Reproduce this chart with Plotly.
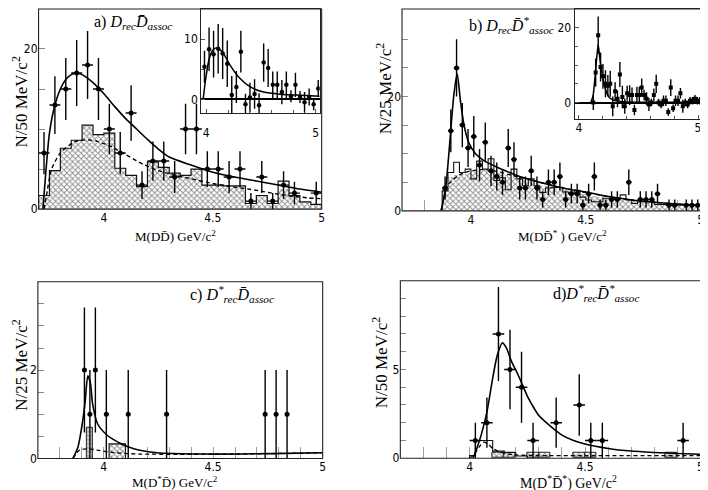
import math
import plotly.graph_objects as go

W, H = 708, 490

# ---------------- Panel a : M(D Dbar), 50 MeV bins ----------------
a_x = [3.725, 3.775, 3.825, 3.875, 3.925, 3.975, 4.025, 4.075, 4.125, 4.175,
       4.225, 4.275, 4.325, 4.375, 4.425, 4.475, 4.525, 4.575, 4.625, 4.675,
       4.725, 4.775, 4.825, 4.875, 4.925, 4.975]
a_counts = [7, 13, 15, 17, 18, 15, 10, 7, 12, 3, 6, 6, 4, 10, 10, 5, 5, 4, 5, 1,
            4, 1, 3, 2, 0, 2]
a_hatch = [1.7, 4.8, 7.6, 8.6, 10.5, 9.3, 9.5, 5.1, 4.2, 2.8, 5.9, 5.2, 4.5, 4.2,
           5.0, 3.0, 3.0, 2.9, 2.9, 0.7, 1.7, 0.7, 2.5, 1.7, 0.9, 0.6]
a_outline = [1.7, 4.8, 7.6, 8.6, 10.5, 9.3, 9.5, 5.1, 4.2, 2.8, 5.9, 5.2, 4.5, 4.2,
             5.0, 3.0, 3.0, 2.9, 2.9, 0.7, 1.7, 0.7, 3.5, 1.7, 0.9, 0.6]
a_fit_x = [3.72, 3.73, 3.75, 3.775, 3.8, 3.825, 3.85, 3.875, 3.9, 3.95, 4.0, 4.05,
           4.1, 4.15, 4.2, 4.25, 4.3, 4.4, 4.5, 4.6, 4.7, 4.8, 4.9, 5.0]
a_fit_y = [0, 3.5, 9.5, 13, 15, 16.2, 16.8, 17, 16.8, 15.8, 14.4, 12.8, 11.3, 10,
           8.7, 7.5, 6.5, 5.5, 4.6, 4.0, 3.5, 3.0, 2.5, 2.1]
a_bkg_x = [3.725, 3.735, 3.76, 3.8, 3.865, 3.92, 3.97, 4.035, 4.1, 4.18, 4.25, 4.33,
           4.4, 4.48, 4.56, 4.64, 4.71, 4.79, 4.87, 4.94, 5.0]
a_bkg_y = [0, 1.5, 5.0, 7.0, 8.4, 8.65, 8.45, 7.8, 6.8, 5.6, 4.8, 4.2, 3.8, 3.3, 2.9,
           2.6, 2.3, 1.9, 1.6, 1.4, 1.3]
# inset a (background subtracted)
inset_a_x = [3.985, 4.027, 4.068, 4.110, 4.151, 4.193, 4.234, 4.276, 4.317, 4.359,
             4.400, 4.442, 4.483, 4.525, 4.566, 4.608, 4.649, 4.691, 4.732, 4.774,
             4.815, 4.857, 4.898, 4.940, 4.981, 5.023]
inset_a_y = [5.4, 8.3, 7.5, 8.4, 7.6, 5.9, 0.7, 2.05, 7.9, -0.8, 0.3, 0.9, -1.0, 6.1,
             5.2, 2.4, 2.4, 1.2, 2.4, 0.5, 2.4, 0.4, -0.5, 0.4, -0.8, 1.8]
inset_a_fit_x = [3.973, 3.994, 4.024, 4.055, 4.085, 4.115, 4.161, 4.221, 4.312, 4.403,
                 4.524, 4.675, 4.827, 5.036]
inset_a_fit_y = [0, 3.1, 6.4, 8.0, 8.5, 8.4, 7.5, 5.6, 3.4, 2.05, 1.2, 0.85, 0.7, 0.5]

# ---------------- Panel b : M(D Dbar*), 25 MeV bins ----------------
b_x = [3.8875, 3.9125, 3.9375, 3.9625, 3.9875, 4.0125, 4.0375, 4.0625, 4.0875, 4.1125,
       4.1375, 4.1625, 4.1875, 4.2125, 4.2375, 4.2625, 4.2875, 4.3125, 4.3375, 4.3625,
       4.3875, 4.4125, 4.4375, 4.4625, 4.4875, 4.5125, 4.5375, 4.5625, 4.5875, 4.6125,
       4.6375, 4.6625, 4.6875, 4.7125, 4.7375, 4.7625, 4.7875, 4.8125, 4.8375, 4.8625,
       4.8875, 4.9125, 4.9375, 4.9625, 4.9875]
b_counts = [4, 14, 25, 15, 11, 13, 8, 12, 7, 6, 5, 11, 9, 4, 4, 7, 4, 2, 5, 5, 6, 2,
            3, 3, 1, 3, 6, 1, 1, 2, 2, 0, 5, 0, 2, 2, 2, 3, 0, 1, 1, 0, 1, 1, 1]
b_hatch = [4.0, 6.0, 6.3, 6.5, 6.6, 6.9, 7.0, 7.1, 7.3, 6.7, 6.4, 6.2, 6.0, 5.5, 5.4,
           5.0, 4.8, 4.4, 4.4, 4.0, 3.9, 3.6, 3.4, 3.3, 2.9, 2.8, 2.6, 2.4, 2.3, 2.1,
           2.0, 1.9, 1.9, 1.7, 1.6, 1.5, 1.4, 1.4, 1.3, 1.2, 1.2, 1.1, 1.0, 1.0, 1.0]
b_outline = [3.5, 6.7, 8.5, 6.7, 7.3, 5.6, 8.7, 7.3, 9.1, 5.3, 5.8, 3.7, 7.3, 5.6, 4.4,
             5.6, 4.4, 3.2, 4.0, 4.1, 4.1, 3.3, 3.0, 3.6, 2.4, 1.9, 1.6, 1.6, 2.2, 2.2,
             2.0, 2.8, 1.9, 1.3, 1.6, 1.6, 1.6, 1.1, 1.1, 1.0, 1.0, 1.0, 1.0, 1.0, 1.0]
b_fit_x = [3.87, 3.89, 3.91, 3.925, 3.94, 3.955, 3.97, 3.99, 4.02, 4.06, 4.1, 4.15,
           4.2, 4.3, 4.4, 4.5, 4.6, 4.7, 4.8, 4.9, 5.0]
b_fit_y = [0, 4, 13, 20, 24, 19, 15, 12, 10, 8.7, 7.9, 7, 6.2, 5, 4, 3.3, 2.5, 1.9,
           1.5, 1.2, 1.0]
b_bkg_x = [3.87, 3.9, 3.95, 4.0, 4.05, 4.1, 4.2, 4.3, 4.4, 4.5, 4.6, 4.7, 4.8, 4.9, 5.0]
b_bkg_y = [0, 4.5, 6.3, 7.0, 7.2, 7.0, 6.0, 5.0, 4.0, 3.2, 2.5, 1.9, 1.5, 1.2, 1.0]
# inset b (background subtracted)
inset_b_x = [4.121, 4.141, 4.162, 4.182, 4.202, 4.223, 4.243, 4.263, 4.284, 4.304,
             4.324, 4.344, 4.365, 4.385, 4.405, 4.426, 4.446, 4.466, 4.487, 4.507,
             4.527, 4.547, 4.568, 4.588, 4.608, 4.629, 4.649, 4.669, 4.690, 4.710,
             4.730, 4.750, 4.771, 4.791, 4.811, 4.832, 4.852, 4.872, 4.893, 4.913,
             4.933, 4.953, 4.974, 4.994, 5.014]
inset_b_y = [0, 8, 18, 9.5, 7, 5, 4.5, 5, -1, 3, 1, 7.5, 1.5, -1, 2.5, 2, 2, -2, 2, 2,
             4, 2, 1, -0.5, 0, 2, 5, 0, -0.5, 0.5, 0.5, -2.5, 4, -1.5, 0.5, 0.5, 2.5,
             -1, 0, -0.5, 0.5, 0.5, 1, 0.5, 0.5]
inset_b_fit_x = [4.10, 4.12, 4.131, 4.148, 4.162, 4.175, 4.19, 4.209, 4.237, 4.26,
                 4.292, 4.35, 4.5, 5.031]
inset_b_fit_y = [0, 2, 5.3, 11.3, 15.5, 12, 8.5, 5.3, 2.3, 1.2, 0.6, 0.3, 0.1, 0.05]

# ---------------- Panel c : M(D* Dbar), 25 MeV bins ----------------
c_x = [3.9125, 3.9375, 3.9625, 4.0125, 4.1125, 4.2875, 4.7375, 4.7875, 4.8375]
c_counts = [2, 1, 2, 1, 1, 1, 1, 1, 1]
c_hist_x = [3.9375, 4.0375, 4.0625, 4.0875]
c_hist_y = [0.7, 0.33, 0.33, 0.33]
c_fit_x = [3.86, 3.883, 3.905, 3.916, 3.928, 3.94, 3.95, 3.973, 4.018, 4.078, 4.138,
           4.243, 4.468, 4.77, 5.0]
c_fit_y = [0, 0.26, 0.86, 1.3, 1.87, 1.7, 1.23, 0.78, 0.52, 0.34, 0.22, 0.13, 0.10,
           0.11, 0.13]
c_bkg_x = [3.86, 3.89, 3.93, 3.97, 4.05, 4.17, 4.6, 5.0]
c_bkg_y = [0, 0.19, 0.22, 0.19, 0.13, 0.10, 0.10, 0.13]

# ---------------- Panel d : M(D* Dbar*), 50 MeV bins ----------------
d_x = [4.025, 4.075, 4.125, 4.175, 4.225, 4.275, 4.375, 4.475, 4.525, 4.575, 4.925]
d_counts = [1, 2, 7, 5, 4, 1, 2, 3, 1, 1, 1]
d_hatch_x = [4.125, 4.175, 4.275, 4.325, 4.475, 4.525, 4.875]
d_hatch_y = [0.28, 0.28, 0.28, 0.28, 0.28, 0.28, 0.28]
d_out_x = [4.0125, 4.0375, 4.0625, 4.0875, 4.1125, 4.1375, 4.1625, 4.1875, 4.2125, 4.2375]
d_out_y = [0.15, 1.0, 1.0, 1.0, 0.4, 0.4, 0.32, 0.32, 0.12, 0.12]
d_fit_x = [4.015, 4.03, 4.05, 4.075, 4.1, 4.12, 4.142, 4.16, 4.18, 4.21, 4.23, 4.25,
           4.28, 4.3, 4.35, 4.4, 4.45, 4.5, 4.6, 4.7, 4.8, 4.9, 5.0]
d_fit_y = [0, 0.5, 1.3, 2.6, 4.5, 5.8, 6.5, 6.2, 5.5, 4.7, 4.1, 3.5, 2.8, 2.4, 1.8,
           1.3, 1.0, 0.8, 0.55, 0.4, 0.32, 0.26, 0.22]
d_bkg_x = [4.0, 4.02, 4.04, 4.06, 4.08, 4.1, 4.13, 4.16, 4.2, 4.3, 4.5, 5.0]
d_bkg_y = [0, 0.2, 0.6, 0.9, 0.8, 0.55, 0.35, 0.25, 0.18, 0.15, 0.14, 0.15]

# ---------------- tick labels ----------------
x_tick_vals = [4, 4.5, 5]
x_tick_text = ["4", "4.5", "5"]
x_minor_vals = [3.8, 3.9, 4.1, 4.2, 4.3, 4.4, 4.6, 4.7, 4.8, 4.9]

# ---------------- helpers ----------------
SERIF = "Liberation Serif, Times New Roman, serif"
NARROW = "Liberation Sans Narrow, DejaVu Sans Condensed, Liberation Sans, sans-serif"


def perr(counts):
    return [math.sqrt(c) if c > 0 else 1.0 for c in counts]


def shown(counts):
    return [c if c > 0 else None for c in counts]


def points(x, y, err, xerr, xa, ya, symbol="circle", size=5):
    return go.Scatter(x=x, y=y, mode="markers", xaxis=xa, yaxis=ya,
                      marker=dict(color="black", size=size, symbol=symbol),
                      error_y=dict(type="data", array=err, thickness=1.4, width=0,
                                   color="black"),
                      error_x=dict(type="data", array=[xerr] * len(x), thickness=1.4,
                                   width=0, color="black"),
                      hoverinfo="skip")


def hatched(x, y, w, xa, ya, shape="x", line=0):
    return go.Bar(x=x, y=y, width=[w] * len(x), xaxis=xa, yaxis=ya,
                  marker=dict(color="white",
                              pattern=dict(shape=shape, fgcolor="#1a1a1a", bgcolor="white",
                                           size=4, solidity=0.42),
                              line=dict(width=line, color="#222")),
                  hoverinfo="skip")


def steps(centers, vals, w, xa, ya, width=1.2):
    xs = [centers[0] - w / 2]
    ys = [0]
    for c, v in zip(centers, vals):
        xs.append(c - w / 2)
        ys.append(v)
    xs += [centers[-1] + w / 2, centers[-1] + w / 2]
    ys += [vals[-1], 0]
    return go.Scatter(x=xs, y=ys, mode="lines", xaxis=xa, yaxis=ya,
                      line=dict(color="#111", width=width, shape="hv"), hoverinfo="skip")


def curve(x, y, xa, ya, dash=None, width=1.6):
    return go.Scatter(x=x, y=y, mode="lines", xaxis=xa, yaxis=ya,
                      line=dict(color="black", width=width, shape="spline",
                                smoothing=0.7, dash=dash), hoverinfo="skip")


fig = go.Figure()

# panel a
fig.add_trace(hatched(a_x, a_hatch, 0.05, "x", "y"))
fig.add_trace(steps(a_x, a_outline, 0.05, "x", "y"))
fig.add_trace(curve(a_bkg_x, a_bkg_y, "x", "y", dash="4px,3px", width=1.4))
fig.add_trace(curve(a_fit_x, a_fit_y, "x", "y"))
fig.add_trace(points(a_x, shown(a_counts), perr(a_counts), 0.025, "x", "y"))

# panel b
fig.add_trace(hatched(b_x, b_hatch, 0.025, "x2", "y2"))
fig.add_trace(steps(b_x, b_outline, 0.025, "x2", "y2", width=1.1))
fig.add_trace(curve(b_bkg_x, b_bkg_y, "x2", "y2", dash="4px,3px", width=1.3))
fig.add_trace(curve(b_fit_x, b_fit_y, "x2", "y2"))
fig.add_trace(points(b_x, shown(b_counts), perr(b_counts), 0.0125, "x2", "y2", size=5))

# panel c
fig.add_trace(hatched(c_hist_x[:1], c_hist_y[:1], 0.025, "x3", "y3", shape="+", line=1))
fig.add_trace(hatched(c_hist_x[1:], c_hist_y[1:], 0.025, "x3", "y3", line=0))
fig.add_trace(steps(c_hist_x[1:], c_hist_y[1:], 0.025, "x3", "y3", width=1.1))
fig.add_trace(curve(c_bkg_x, c_bkg_y, "x3", "y3", dash="4px,3px", width=1.3))
fig.add_trace(curve(c_fit_x, c_fit_y, "x3", "y3"))
fig.add_trace(points(c_x, c_counts, perr(c_counts), 0.0, "x3", "y3"))

# panel d
fig.add_trace(hatched(d_hatch_x, d_hatch_y, 0.05, "x4", "y4", line=1))
fig.add_trace(steps(d_out_x, d_out_y, 0.025, "x4", "y4", width=1.1))
fig.add_trace(curve(d_bkg_x, d_bkg_y, "x4", "y4", dash="4px,3px", width=1.3))
fig.add_trace(curve(d_fit_x, d_fit_y, "x4", "y4"))
fig.add_trace(points(d_x, d_counts, perr(d_counts), 0.025, "x4", "y4"))

# inset a
fig.add_trace(curve(inset_a_fit_x, inset_a_fit_y, "x5", "y5", width=1.5))
fig.add_trace(points(inset_a_x, inset_a_y, perr(a_counts), 0.012, "x5", "y5", size=4.5))

# inset b
fig.add_trace(curve(inset_b_fit_x, inset_b_fit_y, "x6", "y6", width=1.5))
fig.add_trace(points(inset_b_x, inset_b_y, perr(b_counts), 0.0, "x6", "y6",
                     symbol="square", size=4))

tickfont = dict(family=NARROW, size=12, color="black")


def main_x(domain, anchor, xmax=5.0):
    return dict(domain=domain, anchor=anchor, range=[3.7, xmax],
                tickmode="array", tickvals=x_tick_vals, ticktext=x_tick_text,
                ticks="inside", ticklen=11, tickcolor="#a0a0a0", tickwidth=1,
                minor=dict(tickmode="array", tickvals=x_minor_vals, ticks="inside",
                           ticklen=11, tickcolor="#a0a0a0", tickwidth=1),
                showline=False, showgrid=False, zeroline=False, layer="below traces",
                ticklabeloverflow="allow", tickfont=tickfont, fixedrange=True)


def main_y(domain, anchor, rng, tv, minor_vals):
    return dict(domain=domain, anchor=anchor, range=rng,
                tickmode="array", tickvals=tv, ticktext=[str(v) for v in tv],
                ticks="inside", ticklen=6, tickcolor="#888", tickwidth=1,
                minor=dict(tickmode="array", tickvals=minor_vals, ticks="inside",
                           ticklen=6, tickcolor="#888", tickwidth=1),
                showline=False, showgrid=False, zeroline=False, layer="below traces",
                ticklabeloverflow="allow", tickfont=tickfont, fixedrange=True)


def px_x(a, b):
    return [a / W, b / W]


def px_y(top, bottom):
    return [1 - bottom / H, min(0.998, 1 - top / H)]


dom = {
    "a": (px_x(30.7, 315), px_y(0, 204)),
    "b": (px_x(395.7, 698.3), px_y(0, 205.8)),
    "c": (px_x(30, 316), px_y(277.7, 457)),
    "d": (px_x(394, 697.7), px_y(276.7, 456.7)),
    "ia": (px_x(194, 313), px_y(0, 106.7)),
    "ib": (px_x(569, 696.7), px_y(0, 113)),
}

inset_font = dict(family=NARROW, size=12, color="black")

fig.update_layout(
    width=W, height=H, autosize=False,
    margin=dict(l=0, r=0, t=0, b=0, pad=0),
    paper_bgcolor="white", plot_bgcolor="white",
    showlegend=False, barmode="overlay", bargap=0,
    xaxis=main_x(dom["a"][0], "y"),
    yaxis=main_y(dom["a"][1], "x", [0, 25], [0, 20], [5, 10, 15]),
    xaxis2=main_x(dom["b"][0], "y2", 5.012),
    yaxis2=main_y(dom["b"][1], "x2", [0, 35.3], [0, 20], [5, 10, 15, 25, 30]),
    xaxis3=main_x(dom["c"][0], "y3"),
    yaxis3=main_y(dom["c"][1], "x3", [0, 4.0], [0, 2], [0.5, 1, 1.5, 2.5, 3, 3.5]),
    xaxis4=main_x(dom["d"][0], "y4", 5.01),
    yaxis4=main_y(dom["d"][1], "x4", [0, 10.0], [0, 5], [1, 2, 3, 4, 6, 7, 8, 9]),
    xaxis5=dict(domain=dom["ia"][0], anchor="y5", range=[3.955, 5.036],
                tickmode="array", tickvals=[4, 5], ticktext=["4", "5"],
                ticks="inside", ticklen=4, tickcolor="#555",
                minor=dict(tickmode="array", tickvals=[4.2, 4.4, 4.6, 4.8],
                           ticks="inside", ticklen=3, tickcolor="#555"),
                showline=True, mirror=True, linecolor="#222", linewidth=1,
                showgrid=False, zeroline=False, tickfont=inset_font,
                ticklabelstandoff=8, ticklabeloverflow="allow", fixedrange=True),
    yaxis5=dict(domain=dom["ia"][1], anchor="x5", range=[-2.3, 15],
                tickmode="array", tickvals=[0, 10], ticktext=["0", "10"],
                ticks="inside", ticklen=4, tickcolor="#555",
                minor=dict(tickmode="array", tickvals=[5], ticks="inside",
                           ticklen=3, tickcolor="#555"),
                showline=True, mirror=True, linecolor="#222", linewidth=1,
                showgrid=False, zeroline=True, zerolinecolor="black", zerolinewidth=2,
                tickfont=inset_font, fixedrange=True),
    xaxis6=dict(domain=dom["ib"][0], anchor="y6", range=[3.964, 5.031],
                tickmode="array", tickvals=[4, 5], ticktext=["4", "5"],
                ticks="inside", ticklen=4, tickcolor="#555",
                minor=dict(tickmode="array", tickvals=[4.2, 4.4, 4.6, 4.8],
                           ticks="inside", ticklen=3, tickcolor="#555"),
                showline=True, mirror=True, linecolor="#222", linewidth=1,
                showgrid=False, zeroline=False, tickfont=inset_font,
                ticklabelstandoff=-3, ticklabeloverflow="allow", fixedrange=True),
    yaxis6=dict(domain=dom["ib"][1], anchor="x6", range=[-4.5, 25],
                tickmode="array", tickvals=[0, 20], ticktext=["0", "20"],
                ticks="inside", ticklen=4, tickcolor="#555",
                minor=dict(tickmode="array", tickvals=[5, 10, 15], ticks="inside",
                           ticklen=3, tickcolor="#555"),
                showline=True, mirror=True, linecolor="#222", linewidth=1,
                showgrid=False, zeroline=True, zerolinecolor="black", zerolinewidth=2,
                tickfont=inset_font, fixedrange=True),
)

# frames of the four main panels
for ax in ["x", "x2", "x3", "x4"]:
    ya = ax.replace("x", "y")
    fig.add_shape(type="rect", xref=f"{ax} domain", yref=f"{ya} domain",
                  x0=0, x1=1, y0=0, y1=1, line=dict(color="#222", width=1.1),
                  fillcolor="rgba(0,0,0,0)", layer="above")

xt_font = dict(family=SERIF, size=13, color="black")
xt_font_d = dict(family=SERIF, size=14, color="black")
yt_font = dict(family=SERIF, size=17, color="black")
lab_font = dict(family=SERIF, size=16, color="black")


def A(text, x_px, y_px, angle=0, font=xt_font, xanchor="center"):
    fig.add_annotation(text=text, x=x_px / W, y=1 - y_px / H, xref="paper", yref="paper",
                       showarrow=False, textangle=angle, font=font, xanchor=xanchor,
                       yanchor="middle")


y_titles = ["N/50 MeV/c<sup>2</sup>", "N/25 MeV/c<sup>2</sup>",
            "N/25 MeV/c<sup>2</sup>", "N/50 MeV/c<sup>2</sup>"]
x_titles = ["M(DD\u0304) GeV/c<sup>2</sup>", "M(DD\u0304<sup>*</sup> ) GeV/c<sup>2</sup>",
            "M(D<sup>*</sup>D\u0304) GeV/c<sup>2</sup>",
            "M(D<sup>*</sup>D\u0304<sup>*</sup>) GeV/c<sup>2</sup>"]
panel_labels = ["a) <i>D<sub>rec</sub>D\u0304<sub>assoc</sub></i>",
                "b) <i>D<sub>rec</sub>D\u0304<sup>*</sup><sub>assoc</sub></i>",
                "c) <i>D<sup>*</sup><sub>rec</sub>D\u0304<sub>assoc</sub></i>",
                "d)<i>D<sup>*</sup><sub>rec</sub>D\u0304<sup>*</sup><sub>assoc</sub></i>"]

A(y_titles[0], 12, 95, angle=-90, font=yt_font)
A(y_titles[1], 377, 82, angle=-90, font=yt_font)
A(y_titles[2], 12, 362, angle=-90, font=yt_font)
A(y_titles[3], 373, 360, angle=-90, font=yt_font)
A(x_titles[0], 168, 231)
A(x_titles[1], 557, 231)
A(x_titles[2], 168, 481)
A(x_titles[3], 563, 481, font=xt_font_d)
A(panel_labels[0], 84, 15, font=lab_font, xanchor="left")
A(panel_labels[1], 461, 17, font=lab_font, xanchor="left")
A(panel_labels[2], 181, 290, font=lab_font, xanchor="left")
A(panel_labels[3], 545, 289, font=lab_font, xanchor="left")

fig.write_html("out.html")
